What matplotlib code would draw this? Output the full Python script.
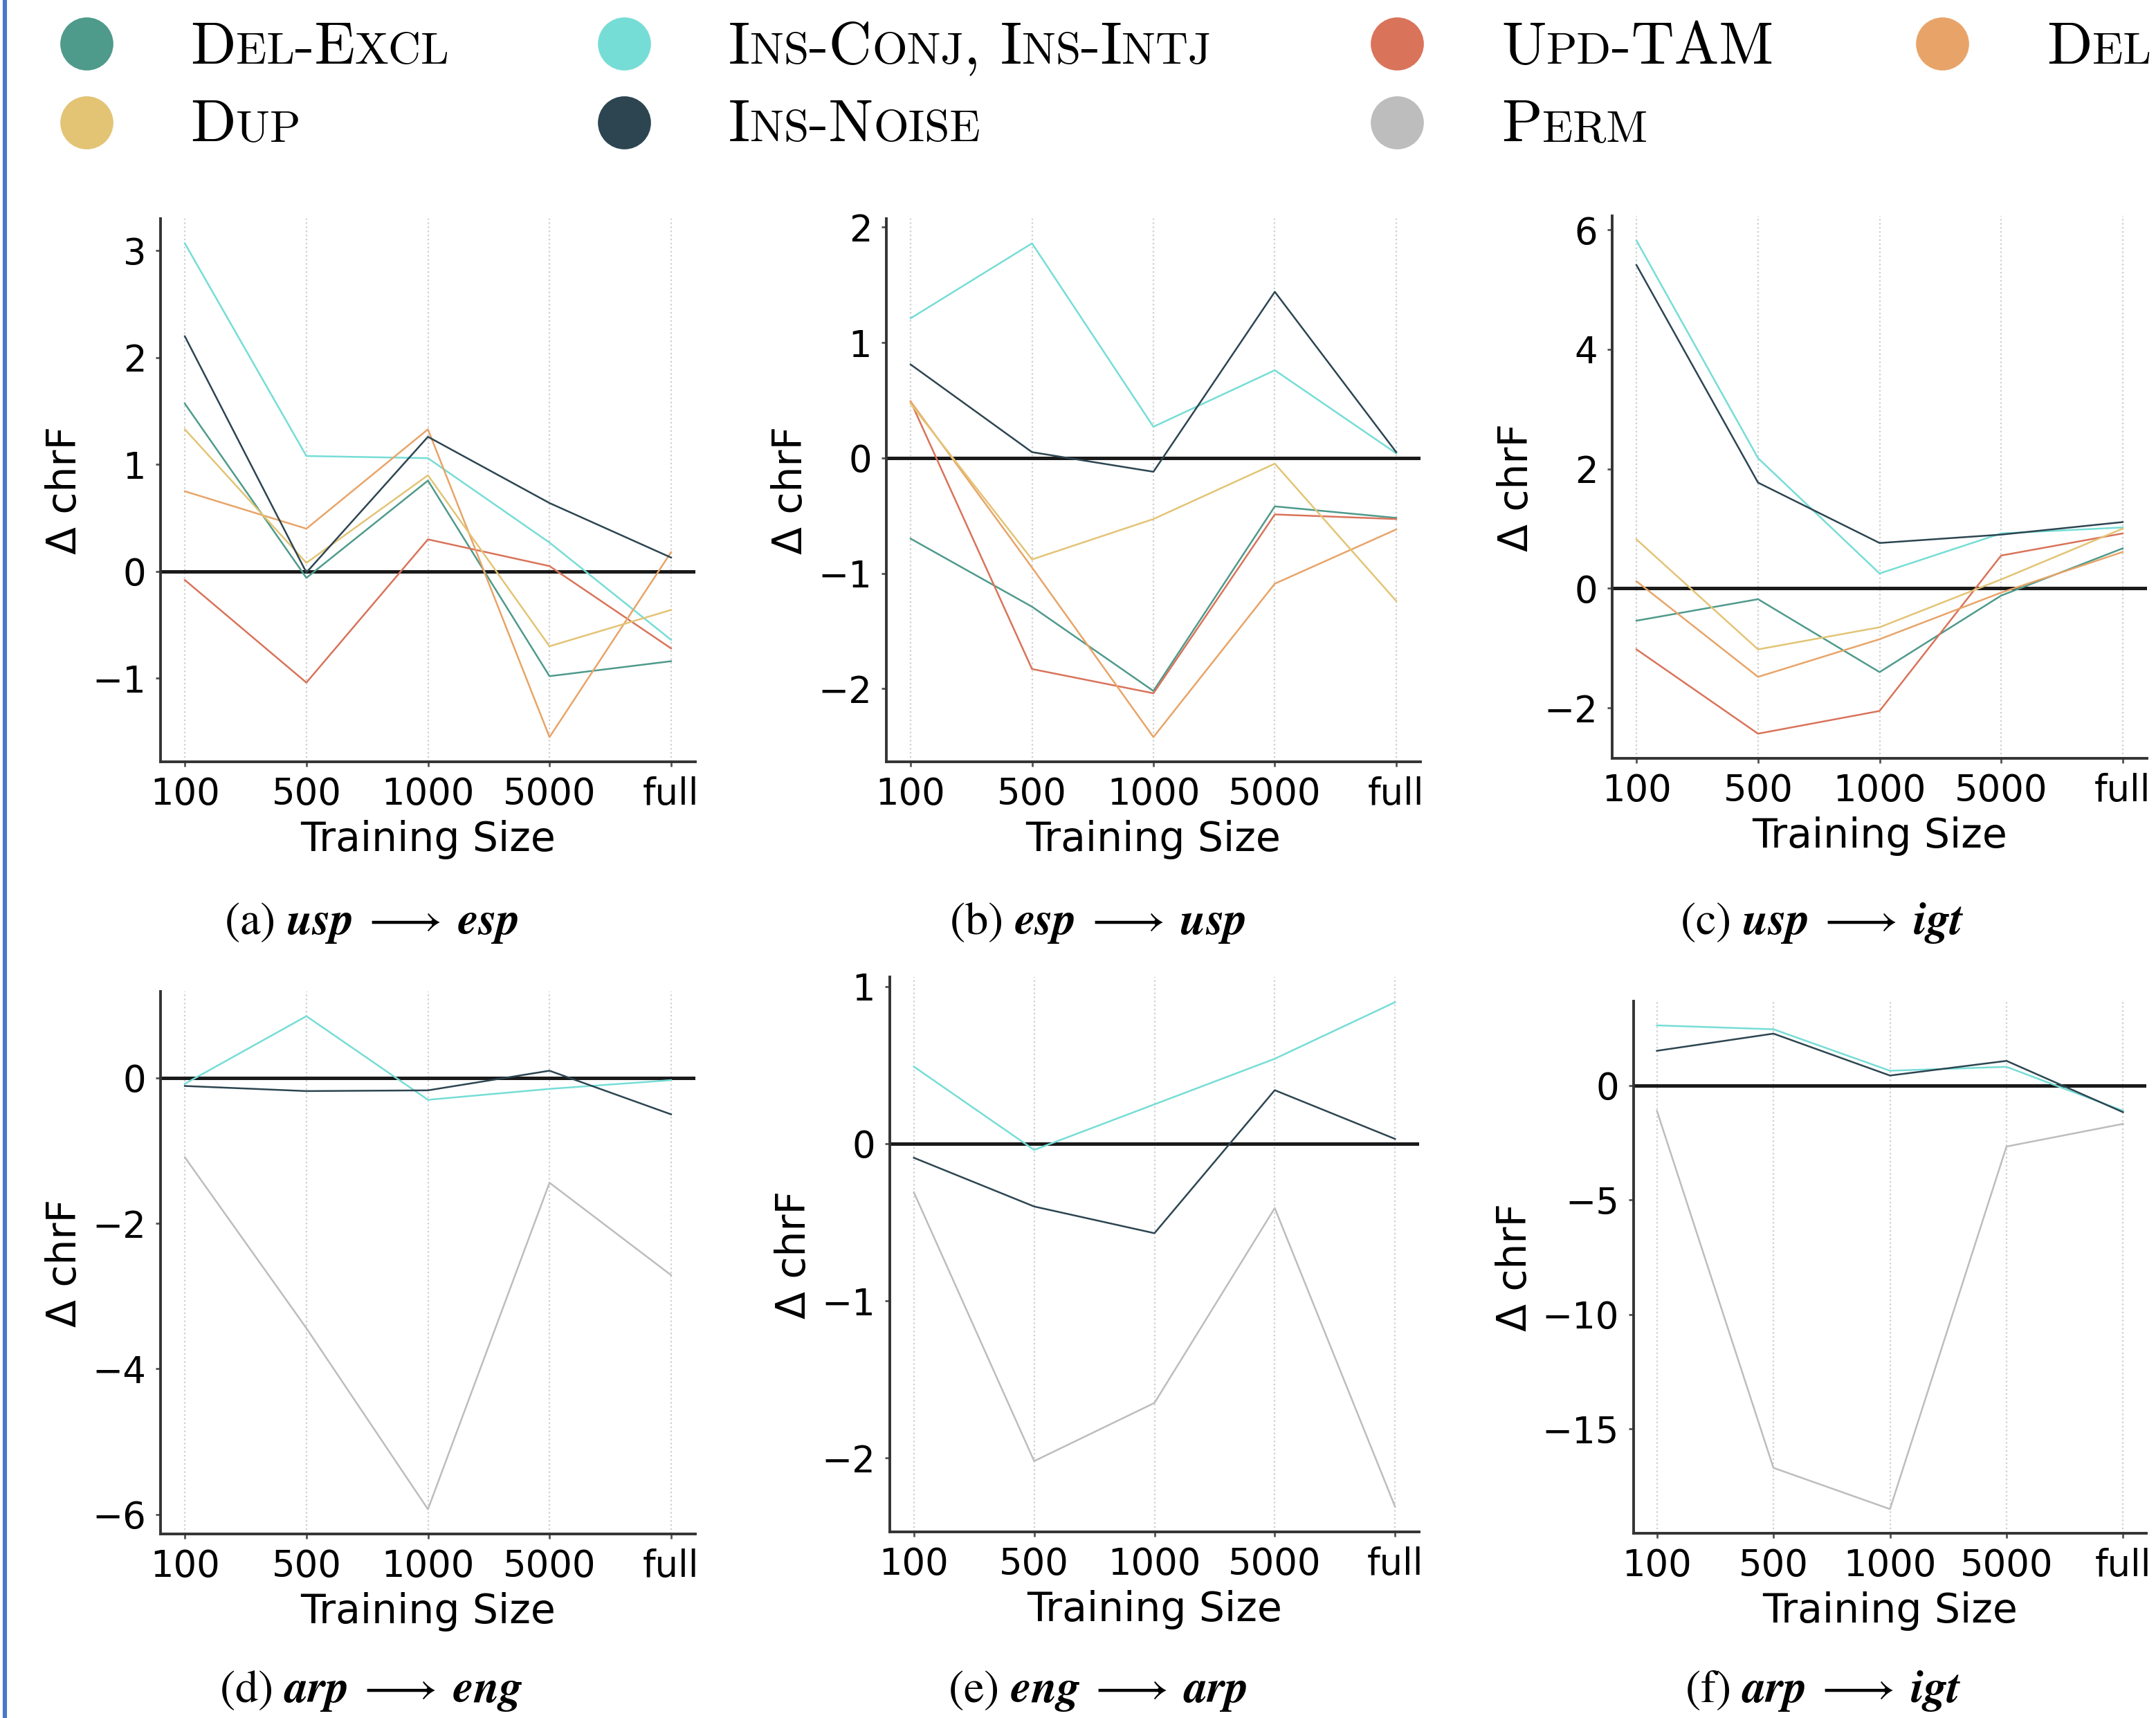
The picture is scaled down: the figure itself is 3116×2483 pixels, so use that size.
import matplotlib.pyplot as plt
from matplotlib.lines import Line2D
from matplotlib.ticker import MultipleLocator

plt.rcParams['mathtext.fontset'] = 'stix'

# ------------------------------------------------------------
# data (delta chrF per training size)
# ------------------------------------------------------------
sizes = ['100', '500', '1000', '5000', 'full']

series_names = ['Del-Excl', 'Ins-Conj, Ins-Intj', 'Upd-TAM', 'Del', 'Dup', 'Ins-Noise', 'Perm']
series_colors = ['#4E9A8B', '#76DDD6', '#D9735A', '#E8A468', '#E3C475', '#2C4551', '#BDBDBD']

# (a) usp -> esp
a_del_excl = [1.57, -0.06, 0.85, -0.98, -0.84]
a_ins_conj = [3.07, 1.08, 1.06, 0.27, -0.64]
a_upd_tam = [-0.08, -1.04, 0.30, 0.05, -0.72]
a_del = [0.75, 0.40, 1.33, -1.55, 0.18]
a_dup = [1.33, 0.08, 0.90, -0.70, -0.36]
a_ins_noise = [2.20, -0.01, 1.26, 0.64, 0.13]

# (b) esp -> usp
b_del_excl = [-0.70, -1.29, -2.02, -0.42, -0.52]
b_ins_conj = [1.21, 1.86, 0.27, 0.76, 0.04]
b_upd_tam = [0.49, -1.83, -2.04, -0.49, -0.53]
b_del = [0.49, -0.95, -2.42, -1.09, -0.62]
b_dup = [0.47, -0.88, -0.53, -0.05, -1.24]
b_ins_noise = [0.81, 0.05, -0.12, 1.44, 0.05]

# (c) usp -> igt
c_del_excl = [-0.54, -0.18, -1.40, -0.12, 0.67]
c_ins_conj = [5.82, 2.18, 0.25, 0.92, 1.02]
c_upd_tam = [-1.02, -2.43, -2.05, 0.55, 0.92]
c_del = [0.12, -1.48, -0.85, -0.07, 0.61]
c_dup = [0.82, -1.02, -0.65, 0.15, 1.00]
c_ins_noise = [5.41, 1.77, 0.76, 0.90, 1.11]

# (d) arp -> eng
d_ins_conj = [-0.08, 0.85, -0.30, -0.15, -0.03]
d_ins_noise = [-0.11, -0.18, -0.17, 0.10, -0.50]
d_perm = [-1.09, -3.44, -5.93, -1.44, -2.71]

# (e) eng -> arp
e_ins_conj = [0.49, -0.04, 0.25, 0.54, 0.90]
e_ins_noise = [-0.09, -0.40, -0.57, 0.34, 0.03]
e_perm = [-0.31, -2.02, -1.65, -0.41, -2.31]

# (f) arp -> igt
f_ins_conj = [2.62, 2.45, 0.64, 0.81, -1.11]
f_ins_noise = [1.51, 2.26, 0.43, 1.07, -1.17]
f_perm = [-1.11, -16.7, -18.5, -2.67, -1.68]

panels = [
    ('(a)', 'usp', 'esp', {0: a_del_excl, 1: a_ins_conj, 2: a_upd_tam, 3: a_del, 4: a_dup, 5: a_ins_noise}),
    ('(b)', 'esp', 'usp', {0: b_del_excl, 1: b_ins_conj, 2: b_upd_tam, 3: b_del, 4: b_dup, 5: b_ins_noise}),
    ('(c)', 'usp', 'igt', {0: c_del_excl, 1: c_ins_conj, 2: c_upd_tam, 3: c_del, 4: c_dup, 5: c_ins_noise}),
    ('(d)', 'arp', 'eng', {1: d_ins_conj, 5: d_ins_noise, 6: d_perm}),
    ('(e)', 'eng', 'arp', {1: e_ins_conj, 5: e_ins_noise, 6: e_perm}),
    ('(f)', 'arp', 'igt', {1: f_ins_conj, 5: f_ins_noise, 6: f_perm}),
]

# ------------------------------------------------------------
# layout (pixels of the 3116 x 2483 picture)
# ------------------------------------------------------------
W, H, DPI = 3116, 2483, 200
boxes = [(232, 1005, 316, 1101), (1281, 2053, 316, 1101), (2330, 3103, 312, 1096),
         (232, 1005, 1433, 2217), (1286, 2051, 1412, 2214), (2361, 3102, 1447, 2216)]
ysteps = [1, 1, 2, 2, 1, 5]
caption_xy = [(536, 1350), (1586, 1350), (2633, 1350), (536, 2460), (1586, 2460), (2635, 2460)]

fig = plt.figure(figsize=(W / DPI, H / DPI), dpi=DPI)

for i, (tag, src, tgt, data) in enumerate(panels):
    x0, x1, yt, yb = boxes[i]
    ax = fig.add_axes([x0 / W, 1 - yb / H, (x1 - x0) / W, (yb - yt) / H])
    ax.axhline(0, color='#1a1a1a', lw=1.8, zorder=1.5)
    for k, vals in data.items():
        ax.plot(sizes, vals, color=series_colors[k], lw=0.9, zorder=2)
    ax.yaxis.set_major_locator(MultipleLocator(ysteps[i]))
    ax.grid(axis='x', ls=':', color='#cfcfcf', lw=0.8)
    ax.set_axisbelow(True)
    for s in ['top', 'right']:
        ax.spines[s].set_visible(False)
    for s in ['left', 'bottom']:
        ax.spines[s].set_color('#333333')
        ax.spines[s].set_linewidth(1.4)
    ax.tick_params(length=2.5, width=1.0, color='#555555', labelsize=19, pad=5)
    ax.set_xlabel('Training Size', fontsize=21, labelpad=4)
    ax.set_ylabel('Δ chrF', fontsize=21, labelpad=4)
    cx, cy = caption_xy[i]
    fig.text(cx / W, 1 - cy / H,
             tag + r' $\mathbfit{' + src + r'}\;\longrightarrow\;\mathbfit{' + tgt + '}$',
             family='STIXGeneral', fontsize=24, ha='center', va='baseline')

# ------------------------------------------------------------
# legend drawn by hand (small caps labels)
# ------------------------------------------------------------
renderer = fig.canvas.get_renderer()
BIG, SMALL = 31, 23.5


def draw_smallcaps(x, y, label):
    runs = []
    for ch in label:
        sz = SMALL if ch.islower() else BIG
        txt = ch.upper()
        if runs and runs[-1][1] == sz and ch != ' ' and runs[-1][0][-1] != ' ':
            runs[-1][0] += txt
        else:
            runs.append([txt, sz])
    for txt, sz in runs:
        if txt == ' ':
            x += 0.333 * sz * DPI / 72
            continue
        t = fig.text(x / W, 1 - y / H, txt, family='cmr10', fontsize=sz, ha='left', va='baseline')
        x += t.get_window_extent(renderer).width


leg_marker_x = [125, 902, 2019, 2807]
leg_text_x = [275, 1053, 2170, 2958]
leg_rows = [(63, 92), (177, 204)]
leg_slots = [(0, 0), (0, 1), (0, 2), (0, 3), (1, 0), (1, 1), (1, 2)]

for k, name in enumerate(series_names):
    r, c = leg_slots[k]
    my, ty = leg_rows[r]
    fig.add_artist(Line2D([leg_marker_x[c] / W], [1 - my / H], marker='o', ms=26.6, ls='none',
                          color=series_colors[k], transform=fig.transFigure))
    draw_smallcaps(leg_text_x[c], ty, name)

# blue edge line at the left
fig.add_artist(Line2D([7 / W, 7 / W], [0, 1], color='#4A77C9', lw=2.2, transform=fig.transFigure))

fig.savefig('out.png', dpi=DPI)
